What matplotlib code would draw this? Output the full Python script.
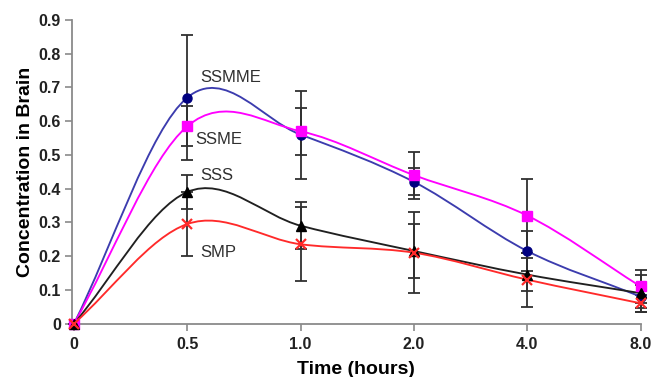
import numpy as np
import matplotlib
matplotlib.use("Agg")
import matplotlib.pyplot as plt
from matplotlib.path import Path
from matplotlib.patches import PathPatch

plt.rcParams['font.family'] = ['Liberation Sans', 'DejaVu Sans']

# ---- data ----
time_labels = ['0', '0.5', '1.0', '2.0', '4.0', '8.0']

ssmme = [0.0, 0.67, 0.56, 0.42, 0.215, 0.08]
ssmme_err = [0.0, 0.185, 0.13, 0.04, 0.06, 0.035]

ssme = [0.0, 0.585, 0.57, 0.44, 0.32, 0.11]
ssme_err = [0.0, 0.06, 0.07, 0.07, 0.11, 0.05]

sss = [0.0, 0.39, 0.29, 0.215, 0.145, 0.09]
sss_err = [0.0, 0.05, 0.07, 0.08, 0.05, 0.055]

smp = [0.0, 0.295, 0.235, 0.21, 0.13, 0.06]
smp_err = [0.0, 0.095, 0.11, 0.12, 0.08, 0.025]

series_names = ['SSMME', 'SSME', 'SSS', 'SMP']


def smooth_path(xs, ys):
    """Catmull-Rom curve through the points, as cubic Bezier segments."""
    p = np.column_stack([xs, ys]).astype(float)
    n = len(p)
    m = np.zeros_like(p)
    for i in range(n):
        if i == 0:
            m[i] = p[1] - p[0]
        elif i == n - 1:
            m[i] = p[-1] - p[-2]
        else:
            m[i] = (p[i + 1] - p[i - 1]) / 2.0
    verts = [p[0]]
    codes = [Path.MOVETO]
    for i in range(n - 1):
        verts += [p[i] + m[i] / 3.0, p[i + 1] - m[i + 1] / 3.0, p[i + 1]]
        codes += [Path.CURVE4] * 3
    return Path(verts, codes)


fig = plt.figure(figsize=(6.55, 3.77), dpi=100)
ax = fig.add_axes([0.1099, 0.1419, 0.868, 0.805])

x = np.arange(len(time_labels))

styles = [
    (ssmme, ssmme_err, '#3c3cae', '#000080', 'o', 6.5),
    (ssme, ssme_err, '#ff00ff', '#ff00ff', 's', 7.5),
    (sss, sss_err, '#202020', '#000000', '^', 7.5),
    (smp, smp_err, '#ff2a2a', '#ff2a2a', 'x', 7.5),
]

for vals, errs, lc, mc, mk, ms in styles:
    ax.errorbar(x, vals, yerr=errs, fmt='none', ecolor='#303030',
                elinewidth=1.3, capsize=4.5, capthick=1.3, zorder=2,
                clip_on=False)

for vals, errs, lc, mc, mk, ms in styles:
    patch = PathPatch(smooth_path(x, vals), facecolor='none', edgecolor=lc,
                      lw=1.35, zorder=3, clip_on=False)
    ax.add_patch(patch)
    if mk == 'x':
        ax.plot(x, vals, linestyle='none', marker=mk, color=mc, ms=ms,
                mew=1.6, zorder=4, clip_on=False)
    else:
        ax.plot(x, vals, linestyle='none', marker=mk, color=mc, mec=mc,
                ms=ms, zorder=4, clip_on=False)

# series labels
label_pos = [(1.11, 0.73), (1.07, 0.547), (1.11, 0.44), (1.115, 0.21)]
for name, (lx, ly) in zip(series_names, label_pos):
    ax.text(lx, ly, name, fontsize=12, color='#303030', ha='left',
            va='center')

ax.set_xlim(-0.018, 5.0)
ax.set_ylim(0, 0.9)
ax.set_xticks(x)
ax.set_xticklabels(time_labels)
ax.set_yticks(np.arange(0, 0.91, 0.1))
ax.set_yticklabels(['0'] + [f'{v:.1f}' for v in np.arange(0.1, 0.91, 0.1)])

for s in ['top', 'right']:
    ax.spines[s].set_visible(False)
for s in ['left', 'bottom']:
    ax.spines[s].set_color('#8a8a8a')
    ax.spines[s].set_linewidth(1.3)

ax.tick_params(axis='both', which='major', direction='out', length=5,
               width=1.2, color='#8a8a8a', labelsize=11.5, pad=3)
ax.tick_params(axis='x', pad=5)
for lbl in ax.get_xticklabels() + ax.get_yticklabels():
    lbl.set_fontweight('bold')
    lbl.set_color('#222222')

ax.set_xlabel('Time (hours)', fontsize=14, fontweight='bold', labelpad=6)
ax.set_ylabel('Concentration in Brain', fontsize=14, fontweight='bold',
              labelpad=3)

fig.savefig('out.png', dpi=100)
